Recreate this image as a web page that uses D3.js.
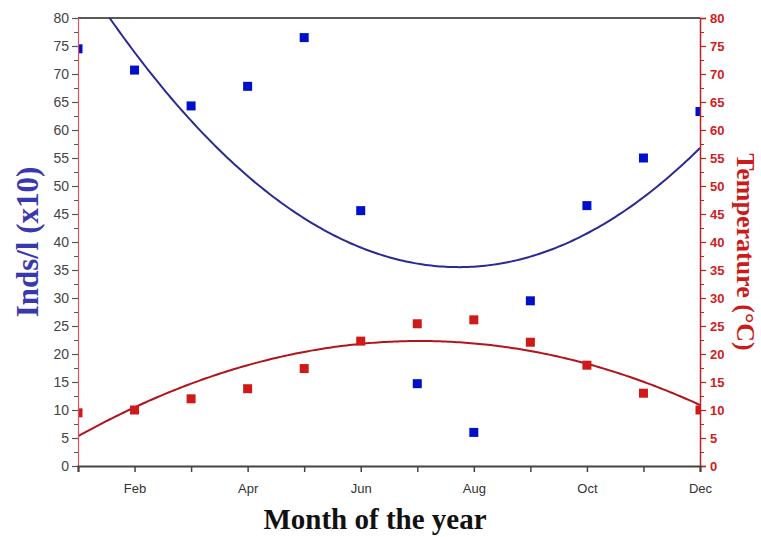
<!DOCTYPE html>
<html>
<head>
<meta charset="utf-8">
<script src="https://cdn.jsdelivr.net/npm/d3@7"></script>
<style>
  html, body { margin: 0; padding: 0; background: #fff; }
  svg { display: block; }
</style>
</head>
<body>
<svg id="chart" width="761" height="537"></svg>
<script>
// ---- data ----
const months = ["Jan","Feb","Mar","Apr","May","Jun","Jul","Aug","Sep","Oct","Nov","Dec"];
const monthIndex = [1,2,3,4,5,6,7,8,9,10,11,12];
const tickLabels = ["", "Feb", "", "Apr", "", "Jun", "", "Aug", "", "Oct", "", "Dec"];
const inds = [74.5, 70.7, 64.3, 67.8, 76.5, 45.6, 14.7, 6.0, 29.5, 46.5, 55.0, 63.3];
const temperature = [9.5, 10.0, 12.0, 13.8, 17.4, 22.3, 25.4, 26.1, 22.1, 18.0, 13.0, 10.0];
const yTicks = [0,5,10,15,20,25,30,35,40,45,50,55,60,65,70,75,80];

// quadratic least squares fit
function quadFit(xs, ys) {
  let n = xs.length, sx=0, sx2=0, sx3=0, sx4=0, sy=0, sxy=0, sx2y=0;
  for (let i=0;i<n;i++){const x=xs[i],y=ys[i];sx+=x;sx2+=x*x;sx3+=x*x*x;sx4+=x*x*x*x;sy+=y;sxy+=x*y;sx2y+=x*x*y;}
  const M=[[n,sx,sx2,sy],[sx,sx2,sx3,sxy],[sx2,sx3,sx4,sx2y]];
  for (let c=0;c<3;c++){
    let p=c; for(let r=c+1;r<3;r++) if(Math.abs(M[r][c])>Math.abs(M[p][c])) p=r;
    [M[c],M[p]]=[M[p],M[c]];
    for(let r=0;r<3;r++){ if(r===c) continue; const f=M[r][c]/M[c][c]; for(let k=c;k<4;k++) M[r][k]-=f*M[c][k]; }
  }
  const a=M[0][3]/M[0][0], b=M[1][3]/M[1][1], c=M[2][3]/M[2][2];
  return x => a + b*x + c*x*x;
}

const svg = d3.select("#chart");
const m = {left: 78, right: 700, top: 18, bottom: 466};
const x = d3.scaleLinear().domain([1, 12]).range([m.left, m.right]);
const yL = d3.scaleLinear().domain([0, 80]).range([m.bottom, m.top]);
const yR = d3.scaleLinear().domain([0, 80]).range([m.bottom, m.top]);

svg.append("defs").append("clipPath").attr("id","clip")
  .append("rect").attr("x", m.left).attr("y", m.top)
  .attr("width", m.right - m.left).attr("height", m.bottom - m.top);

// top border
svg.append("line").attr("x1", m.left).attr("x2", m.right).attr("y1", m.top).attr("y2", m.top)
  .attr("stroke", "#222").attr("stroke-width", 1.5);

// fit curves
const fine = d3.range(1, 12.0001, 0.05);
const fitB = quadFit(monthIndex, inds);
const fitR = quadFit(monthIndex, temperature);
const plot = svg.append("g").attr("clip-path", "url(#clip)");
plot.append("path").datum(fine)
  .attr("d", d3.line().x(d => x(d)).y(d => yL(fitB(d))))
  .attr("fill", "none").attr("stroke", "#2a2a95").attr("stroke-width", 2);
plot.append("path").datum(fine)
  .attr("d", d3.line().x(d => x(d)).y(d => yR(fitR(d))))
  .attr("fill", "none").attr("stroke", "#b3141c").attr("stroke-width", 2);

// markers
const ms = 9;
plot.selectAll("rect.b").data(inds).join("rect").attr("class","b")
  .attr("x", (d,i) => x(monthIndex[i]) - ms/2).attr("y", d => yL(d) - ms/2)
  .attr("width", ms).attr("height", ms).attr("fill", "#0010c8");
plot.selectAll("rect.r").data(temperature).join("rect").attr("class","r")
  .attr("x", (d,i) => x(monthIndex[i]) - ms/2).attr("y", d => yR(d) - ms/2)
  .attr("width", ms).attr("height", ms).attr("fill", "#d01a1a");

// left axis
const gL = svg.append("g").attr("transform", `translate(${m.left},0)`)
  .call(d3.axisLeft(yL).tickValues(yTicks).tickSize(6).tickPadding(3));
gL.selectAll(".tick line").attr("stroke", "#555").attr("stroke-width", 1.2);
gL.selectAll(".tick text").attr("fill", "#444").style("font-family", "Liberation Sans, Arial, sans-serif").style("font-size", "14px");
gL.select(".domain").attr("stroke", "#e05060").attr("stroke-width", 1.2);
svg.append("g").attr("transform", `translate(${m.left},0)`)
  .call(d3.axisLeft(yL).tickValues(d3.range(2.5, 80, 5)).tickSize(4).tickFormat(""))
  .call(g => g.select(".domain").remove())
  .selectAll("line").attr("stroke", "#555");

// right axis
const gR = svg.append("g").attr("transform", `translate(${m.right},0)`)
  .call(d3.axisRight(yR).tickValues(yTicks).tickSize(6).tickPadding(4));
gR.selectAll(".tick line").attr("stroke", "#c02020").attr("stroke-width", 1.2);
gR.selectAll(".tick text").attr("fill", "#d02020").style("font-family", "Liberation Sans, Arial, sans-serif").style("font-size", "13px").style("font-weight", "bold");
gR.select(".domain").attr("stroke", "#c02020").attr("stroke-width", 1.5);
svg.append("g").attr("transform", `translate(${m.right},0)`)
  .call(d3.axisRight(yR).tickValues(d3.range(2.5, 80, 5)).tickSize(4).tickFormat(""))
  .call(g => g.select(".domain").remove())
  .selectAll("line").attr("stroke", "#c02020");

// bottom axis
const gB = svg.append("g").attr("transform", `translate(0,${m.bottom})`)
  .call(d3.axisBottom(x).tickValues(monthIndex).tickSize(6).tickPadding(12)
    .tickFormat((d,i) => tickLabels[i]));
gB.select(".domain").attr("stroke", "#444").attr("stroke-width", 2);
gB.selectAll(".tick line").attr("stroke", "#444").attr("stroke-width", 1.5);
gB.selectAll(".tick text").attr("fill", "#333").style("font-family", "Liberation Sans, Arial, sans-serif").style("font-size", "13px");

// titles
svg.append("text").attr("x", 375).attr("y", 529).attr("text-anchor", "middle")
  .style("font-family", "Liberation Serif, Times New Roman, serif").style("font-weight", "bold")
  .style("font-size", "29px").attr("fill", "#111").text("Month of the year");
svg.append("text").attr("transform", "translate(38,242) rotate(-90)").attr("text-anchor", "middle")
  .style("font-family", "Liberation Serif, Times New Roman, serif").style("font-weight", "bold")
  .style("font-size", "31px").attr("fill", "#3838b0").text("Inds/l (x10)");
svg.append("text").attr("transform", "translate(737,252) rotate(90)").attr("text-anchor", "middle")
  .style("font-family", "Liberation Serif, Times New Roman, serif").style("font-weight", "bold")
  .style("font-size", "26px").attr("fill", "#cc1a1a").text("Temperature (°C)");
</script>
</body>
</html>
